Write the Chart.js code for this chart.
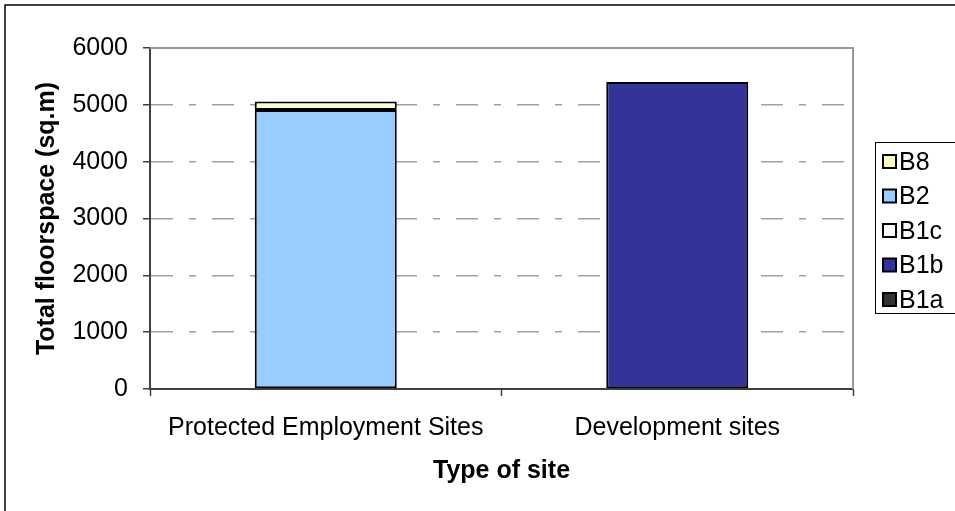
<!DOCTYPE html>
<html lang="en">
<head>
  <meta charset="UTF-8">
  <title>Total floorspace by type of site</title>
  <script src="https://cdn.jsdelivr.net/npm/chart.js"></script>
  <style>
    body {
      margin: 0;
      padding: 0;
      background: white;
      overflow: hidden;
    }
    .chart-box {
      position: relative;
      width: 955px;
      height: 511px;
    }
  </style>
</head>
<body>
  <div class="chart-box">
    <canvas id="floorspaceChart"></canvas>
  </div>

  <script>
    // data
    const siteTypes = ['Protected Employment Sites', 'Development sites'];
    const b1a = [0, 0];
    const b1b = [0, 5400];
    const b1c = [0, 0];
    const b2 = [4910, 0];
    const b8 = [150, 0];
    const yTicks = [0, 1000, 2000, 3000, 4000, 5000, 6000];

    const FONT = 'Liberation Sans, Arial, sans-serif';

    // frame around the whole chart, plot area edges and the boxed legend
    const framePlugin = {
      id: 'frame',
      afterDraw(chart) {
        const ctx = chart.ctx;
        const area = chart.chartArea;
        ctx.save();

        // plot area top and right edge
        ctx.strokeStyle = '#999999';
        ctx.lineWidth = 2;
        ctx.beginPath();
        ctx.moveTo(area.left, area.top);
        ctx.lineTo(area.right, area.top);
        ctx.lineTo(area.right, area.bottom);
        ctx.stroke();

        // outer border (cut off on the right and bottom)
        ctx.strokeStyle = '#000000';
        ctx.lineWidth = 1.5;
        ctx.beginPath();
        ctx.moveTo(5, 520);
        ctx.lineTo(5, 5);
        ctx.lineTo(960, 5);
        ctx.stroke();

        // legend, top series first
        const boxX = 875, boxY = 142;
        ctx.lineWidth = 1;
        ctx.strokeRect(boxX + 0.5, boxY + 0.5, 100, 171);
        ctx.font = '25px ' + FONT;
        ctx.textBaseline = 'middle';
        const sets = chart.data.datasets.slice().reverse();
        sets.forEach((ds, i) => {
          const cy = boxY + 20 + i * 34.5;
          ctx.fillStyle = ds.backgroundColor;
          ctx.fillRect(883, cy - 7, 13, 13);
          ctx.strokeStyle = '#000000';
          ctx.lineWidth = 2;
          ctx.strokeRect(883, cy - 7, 13, 13);
          ctx.fillStyle = '#000000';
          ctx.fillText(ds.label, 899, cy + 1);
        });
        ctx.restore();
      }
    };

    function makeSet(label, data, color) {
      return {
        label: label,
        data: data,
        backgroundColor: color,
        borderColor: '#000000',
        borderWidth: ctx => (ctx.raw ? 2 : 0),
        borderSkipped: false,
        barPercentage: 0.404,
        categoryPercentage: 1
      };
    }

    const ctx = document.getElementById('floorspaceChart').getContext('2d');
    const floorspaceChart = new Chart(ctx, {
      type: 'bar',
      data: {
        labels: siteTypes,
        datasets: [
          makeSet('B1a', b1a, '#333333'),
          makeSet('B1b', b1b, '#333399'),
          makeSet('B1c', b1c, '#FFFFFF'),
          makeSet('B2', b2, '#99CCFF'),
          makeSet('B8', b8, '#FFFFCC')
        ]
      },
      options: {
        responsive: true,
        maintainAspectRatio: false,
        animation: false,
        layout: {
          padding: { top: 48, right: 102, bottom: 0, left: 0 }
        },
        plugins: {
          legend: { display: false },
          tooltip: { enabled: false }
        },
        scales: {
          x: {
            stacked: true,
            afterFit: scale => { scale.height = 122; },
            grid: {
              drawOnChartArea: false,
              drawTicks: true,
              tickLength: 7,
              tickColor: '#404040',
              tickWidth: 1.5,
              offset: true
            },
            border: { color: '#404040', width: 2 },
            ticks: {
              color: '#000000',
              font: { family: FONT, size: 25 },
              padding: 17,
              maxRotation: 0
            },
            title: {
              display: true,
              text: 'Type of site',
              color: '#000000',
              font: { family: FONT, size: 25, weight: 'bold' },
              padding: { top: 0, bottom: 25 }
            }
          },
          y: {
            stacked: true,
            min: yTicks[0],
            max: yTicks[yTicks.length - 1],
            afterFit: scale => { scale.width = 150; },
            afterBuildTicks: scale => {
              scale.ticks = yTicks.map(v => ({ value: v }));
            },
            grid: {
              color: '#a0a0a0',
              lineWidth: 1.5,
              tickLength: 7,
              tickColor: '#404040',
              tickWidth: 1.5
            },
            border: { color: '#404040', width: 2, dash: [22, 16, 7, 16] },
            ticks: {
              color: '#000000',
              font: { family: FONT, size: 25 },
              padding: 15,
              callback: v => String(v)
            },
            title: {
              display: true,
              text: 'Total floorspace (sq.m)',
              color: '#000000',
              font: { family: FONT, size: 25, weight: 'bold' },
              padding: { top: 32, bottom: 0 }
            }
          }
        }
      },
      plugins: [framePlugin]
    });
  </script>
</body>
</html>
